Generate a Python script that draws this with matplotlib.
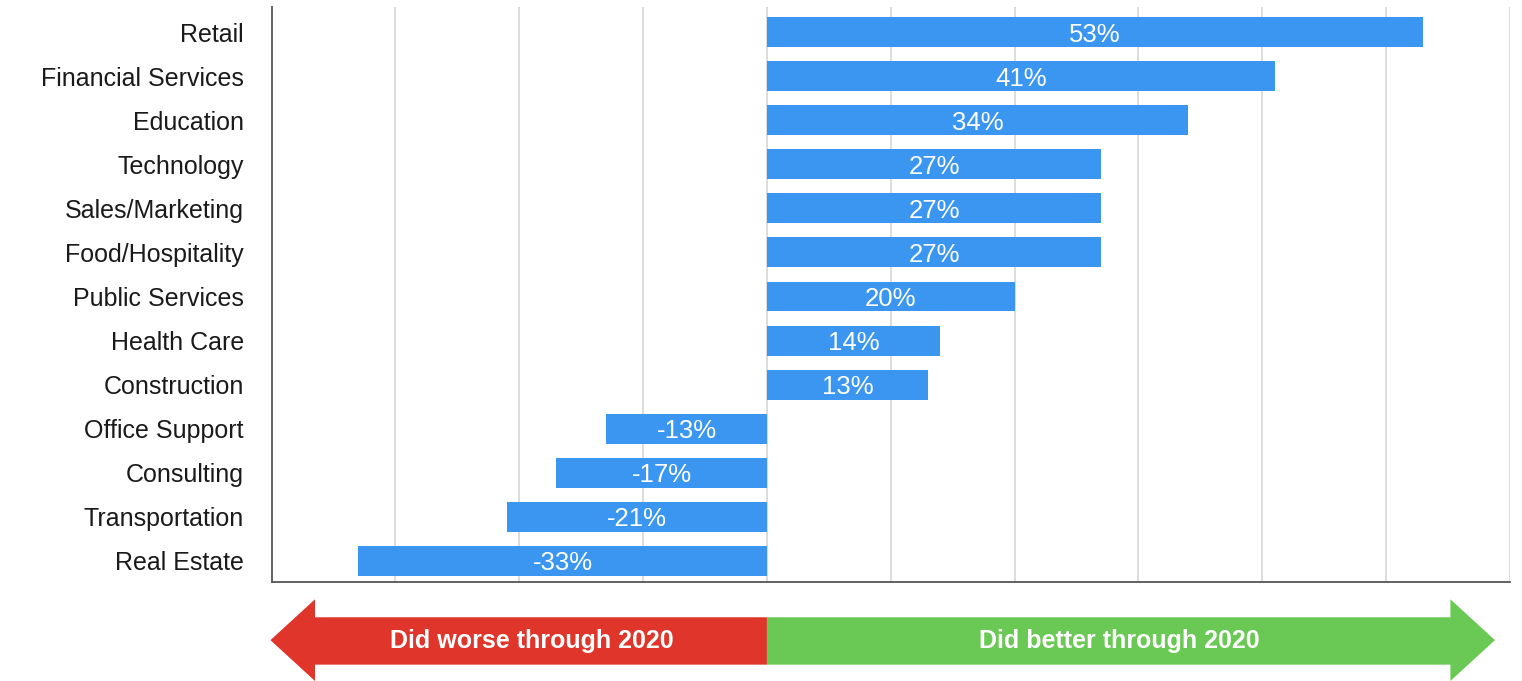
import matplotlib.pyplot as plt
from matplotlib.patches import Polygon

# data
industries = [
    "Retail", "Financial Services", "Education", "Technology",
    "Sales/Marketing", "Food/Hospitality", "Public Services", "Health Care",
    "Construction", "Office Support", "Consulting", "Transportation",
    "Real Estate",
]
change_pct = [53, 41, 34, 27, 27, 27, 20, 14, 13, -13, -17, -21, -33]
arrow_labels = ["Did worse through 2020", "Did better through 2020"]

BAR_COLOR = "#3a96f0"
RED = "#e0352a"
GREEN = "#6ac955"
FONT = ["Liberation Sans", "DejaVu Sans"]

plt.rcParams.update({
    "font.family": FONT,
    "font.size": 18,
})

fig = plt.figure(figsize=(15.22, 6.81), dpi=100)
ax = fig.add_axes([0.1785, 0.1454, 0.8135, 0.8443])

n = len(industries)
ypos = list(range(n - 1, -1, -1))
ax.barh(ypos, change_pct, height=0.68, color=BAR_COLOR, zorder=3)

for y, v in zip(ypos, change_pct):
    ax.text(v / 2, y, f"{v}%", ha="center", va="center_baseline",
            color="white", fontsize=18.5, zorder=4)

ax.set_xlim(-40, 60)
ax.set_ylim(-0.48, n - 1 + 0.57)
ax.set_yticks(ypos)
ax.set_yticklabels(industries, color="#1a1a1a")
ax.set_xticks(range(-30, 61, 10))
ax.set_xticklabels([])
ax.tick_params(axis="both", length=0, pad=20)
ax.grid(axis="x", color="#d6d6d6", linewidth=1.2, zorder=0)

for side in ("top", "right"):
    ax.spines[side].set_visible(False)
for side in ("left", "bottom"):
    ax.spines[side].set_color("#555555")
    ax.spines[side].set_linewidth(1.3)

# direction arrows below the chart
ax2 = fig.add_axes([0.1785, 0.0, 0.8135, 0.12], sharex=ax)
ax2.set_ylim(0, 1)
ax2.axis("off")

x_min, x_max = -40.1, 58.8
head = 3.6
lo, hi = 0.2, 0.78
left_arrow = Polygon(
    [(0, lo), (x_min + head, lo), (x_min + head, 0.0), (x_min, 0.5),
     (x_min + head, 1.0), (x_min + head, hi), (0, hi)],
    closed=True, facecolor=RED, edgecolor="none", clip_on=False,
)
right_arrow = Polygon(
    [(0, lo), (x_max - head, lo), (x_max - head, 0.0), (x_max, 0.5),
     (x_max - head, 1.0), (x_max - head, hi), (0, hi)],
    closed=True, facecolor=GREEN, edgecolor="none", clip_on=False,
)
ax2.add_patch(left_arrow)
ax2.add_patch(right_arrow)
ax2.text(-19, 0.49, arrow_labels[0], ha="center", va="center",
         color="white", fontsize=18, fontweight="bold")
ax2.text(28.5, 0.49, arrow_labels[1], ha="center", va="center",
         color="white", fontsize=18, fontweight="bold")
ax.set_xlim(-40, 60)

fig.savefig("out.png", dpi=100)
